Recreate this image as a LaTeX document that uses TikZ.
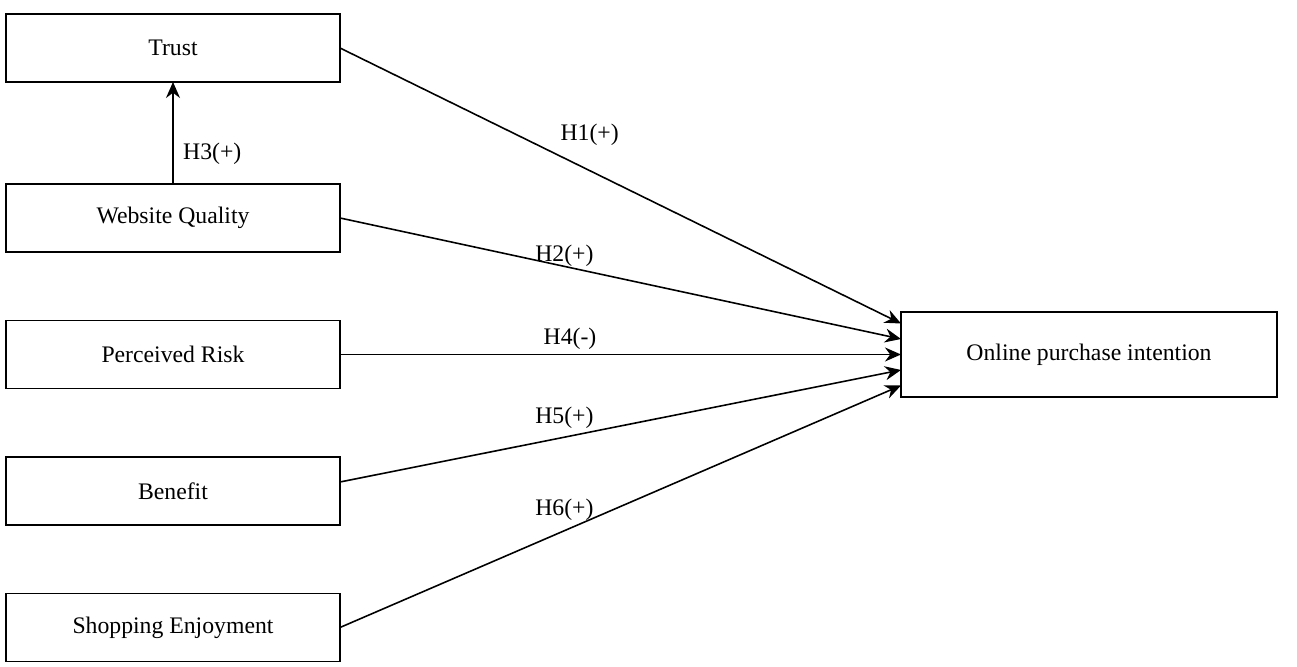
\documentclass[tikz,border=0pt]{standalone}
\usepackage{fontspec}
\setmainfont{Liberation Serif}
\usetikzlibrary{arrows.meta,positioning}

\begin{document}
\begin{tikzpicture}[node distance=1.37cm, font=\fontsize{13.5}{16}\selectfont, >={Stealth[length=3.2mm,width=2.8mm]},
  box/.style={draw, line width=1pt, outer sep=0pt, minimum width=6.68cm, minimum height=1.36cm, inner sep=4pt},
  link/.style={->, line width=0.9pt}]
\useasboundingbox (0,0) rectangle (25.94,13.34);
\node[box] (trust) at (3.46,12.38) {Trust};
\node[box, below=2.04cm of trust] (quality) {Website Quality};
\node[box, below=of quality] (risk) {Perceived Risk};
\node[box, below=of risk] (benefit) {Benefit};
\node[box, below=of benefit] (enjoy) {Shopping Enjoyment};
\node[box, right=11.22cm of risk, minimum width=7.52cm, minimum height=1.7cm] (intent)
      {Online purchase intention};
\draw[link] (quality.north) -- node[right=2pt, pos=0.3] {H3(+)} (trust.south);
\draw[link] (trust.east) -- node[pos=0.445, above=0.37cm] {H1(+)} ([yshift=0.62cm]intent.west);
\draw[link] (quality.east) -- node[pos=0.4, above=-4pt] {H2(+)} ([yshift=0.31cm]intent.west);
\draw[link] (risk.east) -- node[pos=0.41, above=-1pt] {H4(-)} (intent.west);
\draw[link] ([yshift=0.18cm]benefit.east) -- node[pos=0.4, above=1pt] {H5(+)} ([yshift=-0.31cm]intent.west);
\draw[link] (enjoy.east) -- node[pos=0.4, above=2pt] {H6(+)} ([yshift=-0.62cm]intent.west);
\end{tikzpicture}
\end{document}
